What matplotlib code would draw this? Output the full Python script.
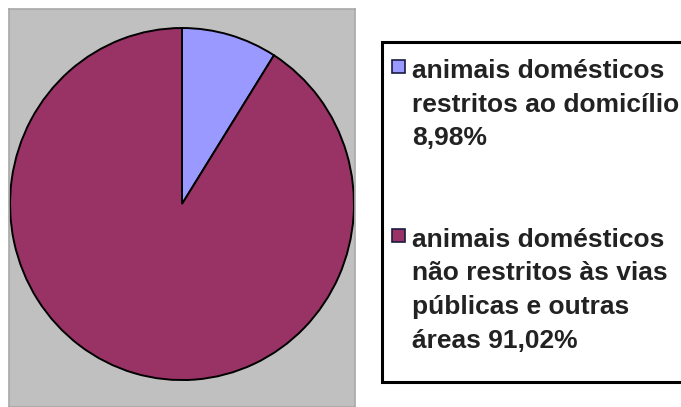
import matplotlib.pyplot as plt
from matplotlib.patches import Rectangle

labels = ["animais domésticos\nrestritos ao domicílio\n8,98%",
          "animais domésticos\nnão restritos às vias\npúblicas e outras\náreas 91,02%"]
values = [8.98, 91.02]
colors = ["#9999FF", "#993366"]

W, H = 681, 407
fig = plt.figure(figsize=(W / 100, H / 100), dpi=100)
fig.patch.set_facecolor("white")

# pie panel (grey plot area)
ax = fig.add_axes([9 / W, 0, 346 / W, 398 / H])
ax.set_facecolor("#C0C0C0")
wedges, _ = ax.pie(values, colors=colors, startangle=90, counterclock=False,
                   wedgeprops=dict(edgecolor="black", linewidth=1.4))
ax.set_aspect("auto")
ax.set_xlim(-1.006, 1.006)
ax.set_ylim(-1.153, 1.108)
ax.set_frame_on(True)
for s in ax.spines.values():
    s.set_color("#A8A8A8")
    s.set_linewidth(1.2)
ax.set_xticks([])
ax.set_yticks([])

# legend drawn by hand so the swatch sits beside the first line
def fx(px):
    return px / W

def fy(py):
    return 1 - py / H

frame = Rectangle((fx(382), fy(382)), fx(330), 340 / H, transform=fig.transFigure,
                  facecolor="white", edgecolor="black", linewidth=2.2, zorder=1)
fig.patches.append(frame)

tops = [59, 228]
for lab, col, top in zip(labels, colors, tops):
    sw = Rectangle((fx(392), fy(top + 14)), 13 / W, 13 / H, transform=fig.transFigure,
                   facecolor=col, edgecolor="#1a1a40", linewidth=1.2, zorder=2)
    fig.patches.append(sw)
    fig.text(fx(412), fy(top), lab, ha="left", va="top", color="#222222",
             family="Liberation Sans", weight="bold", fontsize=19,
             linespacing=1.5, zorder=3)

fig.savefig("out.png", dpi=100)
